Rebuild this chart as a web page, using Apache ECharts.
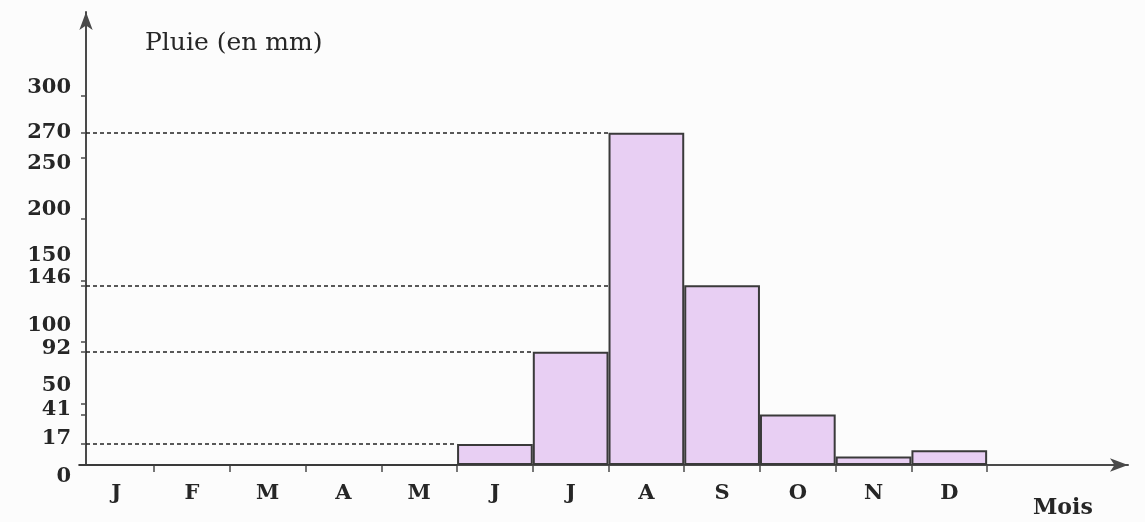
<!DOCTYPE html>
<html>
<head>
<meta charset="utf-8">
<script src="https://cdn.jsdelivr.net/npm/echarts@6/dist/echarts.min.js"></script>
<style>
html,body{margin:0;padding:0;background:#fcfcfc;}
#chart{width:1145px;height:522px;}
</style>
</head>
<body>
<div id="chart"></div>
<script>
// ---- data ----
const months = ['J','F','M','A','M','J','J','A','S','O','N','D'];
const rain = [0, 0, 0, 0, 0, 17, 92, 270, 146, 41, 7, 12];
const yTickValues = [0, 17, 41, 50, 92, 100, 146, 150, 200, 250, 270, 300];
const dashedLevels = [17, 92, 146, 270];
const dashedEndMonth = [5, 6, 7, 7];
const yTitle = 'Pluie (en mm)';
const xTitle = 'Mois';

// ---- style ----
const ink = '#262626';
const serif = 'DejaVu Serif';
const xMin = 0.1, xMax = 13.86;
const labelShift = {300:-8, 270:0, 250:6, 200:-9, 150:-25, 146:-8, 100:-16, 92:-3, 50:-18, 41:-5, 17:-6, 0:12};

const rich = {};
yTickValues.forEach(function (v) {
  const d = labelShift[v] || 0;
  rich['s' + v] = {
    fontFamily: serif, fontWeight: 'bold', fontSize: 21, color: ink,
    padding: d < 0 ? [0, 0, -2 * d, 0] : [2 * d, 0, 0, 0]
  };
});

const chart = echarts.init(document.getElementById('chart'), null, {renderer: 'canvas'});

const barData = rain.map(function (v, i) { return [i + 0.5, v]; });
const markData = dashedLevels.map(function (v, i) {
  return [{coord: [xMin, v]}, {coord: [dashedEndMonth[i], v]}];
});

chart.setOption({
  backgroundColor: '#fcfcfc',
  animation: false,
  title: [
    {text: yTitle, left: 145, top: 31, padding: 0,
     textStyle: {fontFamily: serif, fontWeight: 'normal', fontSize: 25, color: ink}},
    {text: xTitle, left: 1033, top: 497, padding: 0,
     textStyle: {fontFamily: serif, fontWeight: 'bold', fontSize: 22, color: ink}}
  ],
  grid: {left: 86, right: 17, top: 12, bottom: 57, containLabel: false},
  xAxis: {
    type: 'value', min: xMin, max: xMax,
    splitLine: {show: false},
    axisLine: {show: true, symbol: ['none', 'arrow'], symbolSize: [10, 18],
      lineStyle: {color: '#4a4a4a', width: 2}},
    axisTick: {show: true, inside: false, length: 7,
      customValues: [1,2,3,4,5,6,7,8,9,10,11,12],
      lineStyle: {color: '#4a4a4a', width: 1.5}},
    axisLabel: {
      customValues: months.map(function (m, i) { return i + 0.5; }),
      formatter: function (val) { return months[Math.round(val - 0.5)]; },
      margin: 18, fontFamily: serif, fontWeight: 'bold', fontSize: 21, color: ink
    }
  },
  yAxis: {
    type: 'value', min: 0, max: 368,
    splitLine: {show: false},
    axisLine: {show: true, symbol: ['none', 'arrow'], symbolSize: [10, 18],
      lineStyle: {color: '#4a4a4a', width: 2}},
    axisTick: {show: true, length: 5, customValues: yTickValues,
      lineStyle: {color: '#4a4a4a', width: 1.5}},
    axisLabel: {
      customValues: yTickValues,
      margin: 15,
      formatter: function (val) { return '{s' + val + '|' + val + '}'; },
      rich: rich
    }
  },
  series: [{
    type: 'bar',
    data: barData,
    barWidth: 75.7,
    itemStyle: {color: '#e8cff3', borderColor: '#3a3a3a', borderWidth: 2},
    markLine: {
      silent: true,
      symbol: ['none', 'none'],
      label: {show: false},
      lineStyle: {color: '#222', type: [4, 3], width: 1.5},
      data: markData
    }
  }]
});
</script>
</body>
</html>
